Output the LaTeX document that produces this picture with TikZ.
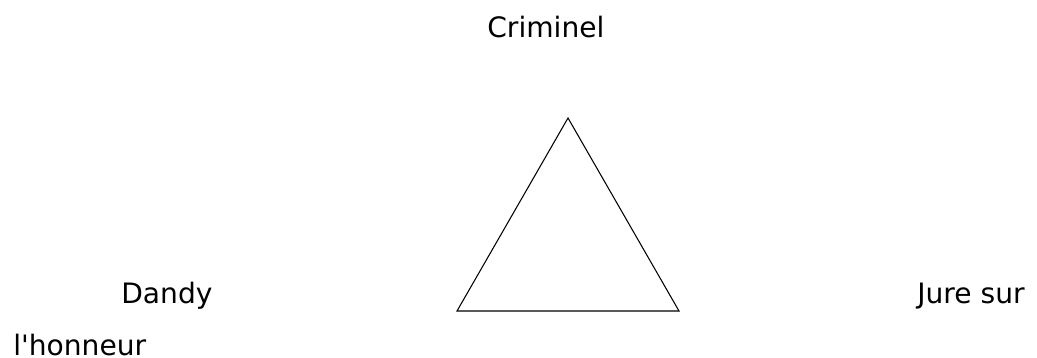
\documentclass[tikz,border=0pt]{standalone}
\usepackage{fontspec}
\newfontfamily\plainf{DejaVu Sans}
\begin{document}
\begin{tikzpicture}[x=0.02cm,y=-0.02cm,
  lbl/.style={inner sep=0pt,anchor=base west,font=\plainf\fontsize{16}{19}\selectfont}]
\useasboundingbox (0,0) rectangle (1037,358);
\coordinate (A) at (568,118);
\coordinate (B) at (457,311);
\coordinate (C) at (679,311);
\draw[line width=0.6pt,line join=miter] (A) -- (B) -- (C) -- cycle;
\node[lbl] (crim) at (487,38) {Criminel};
\node[lbl] (dandy) at (121,303) {Dandy};
\node[lbl] (jure) at (917,303) {Jure sur};
\node[lbl] (honn) at (13,355) {l'honneur};
\end{tikzpicture}
\end{document}
